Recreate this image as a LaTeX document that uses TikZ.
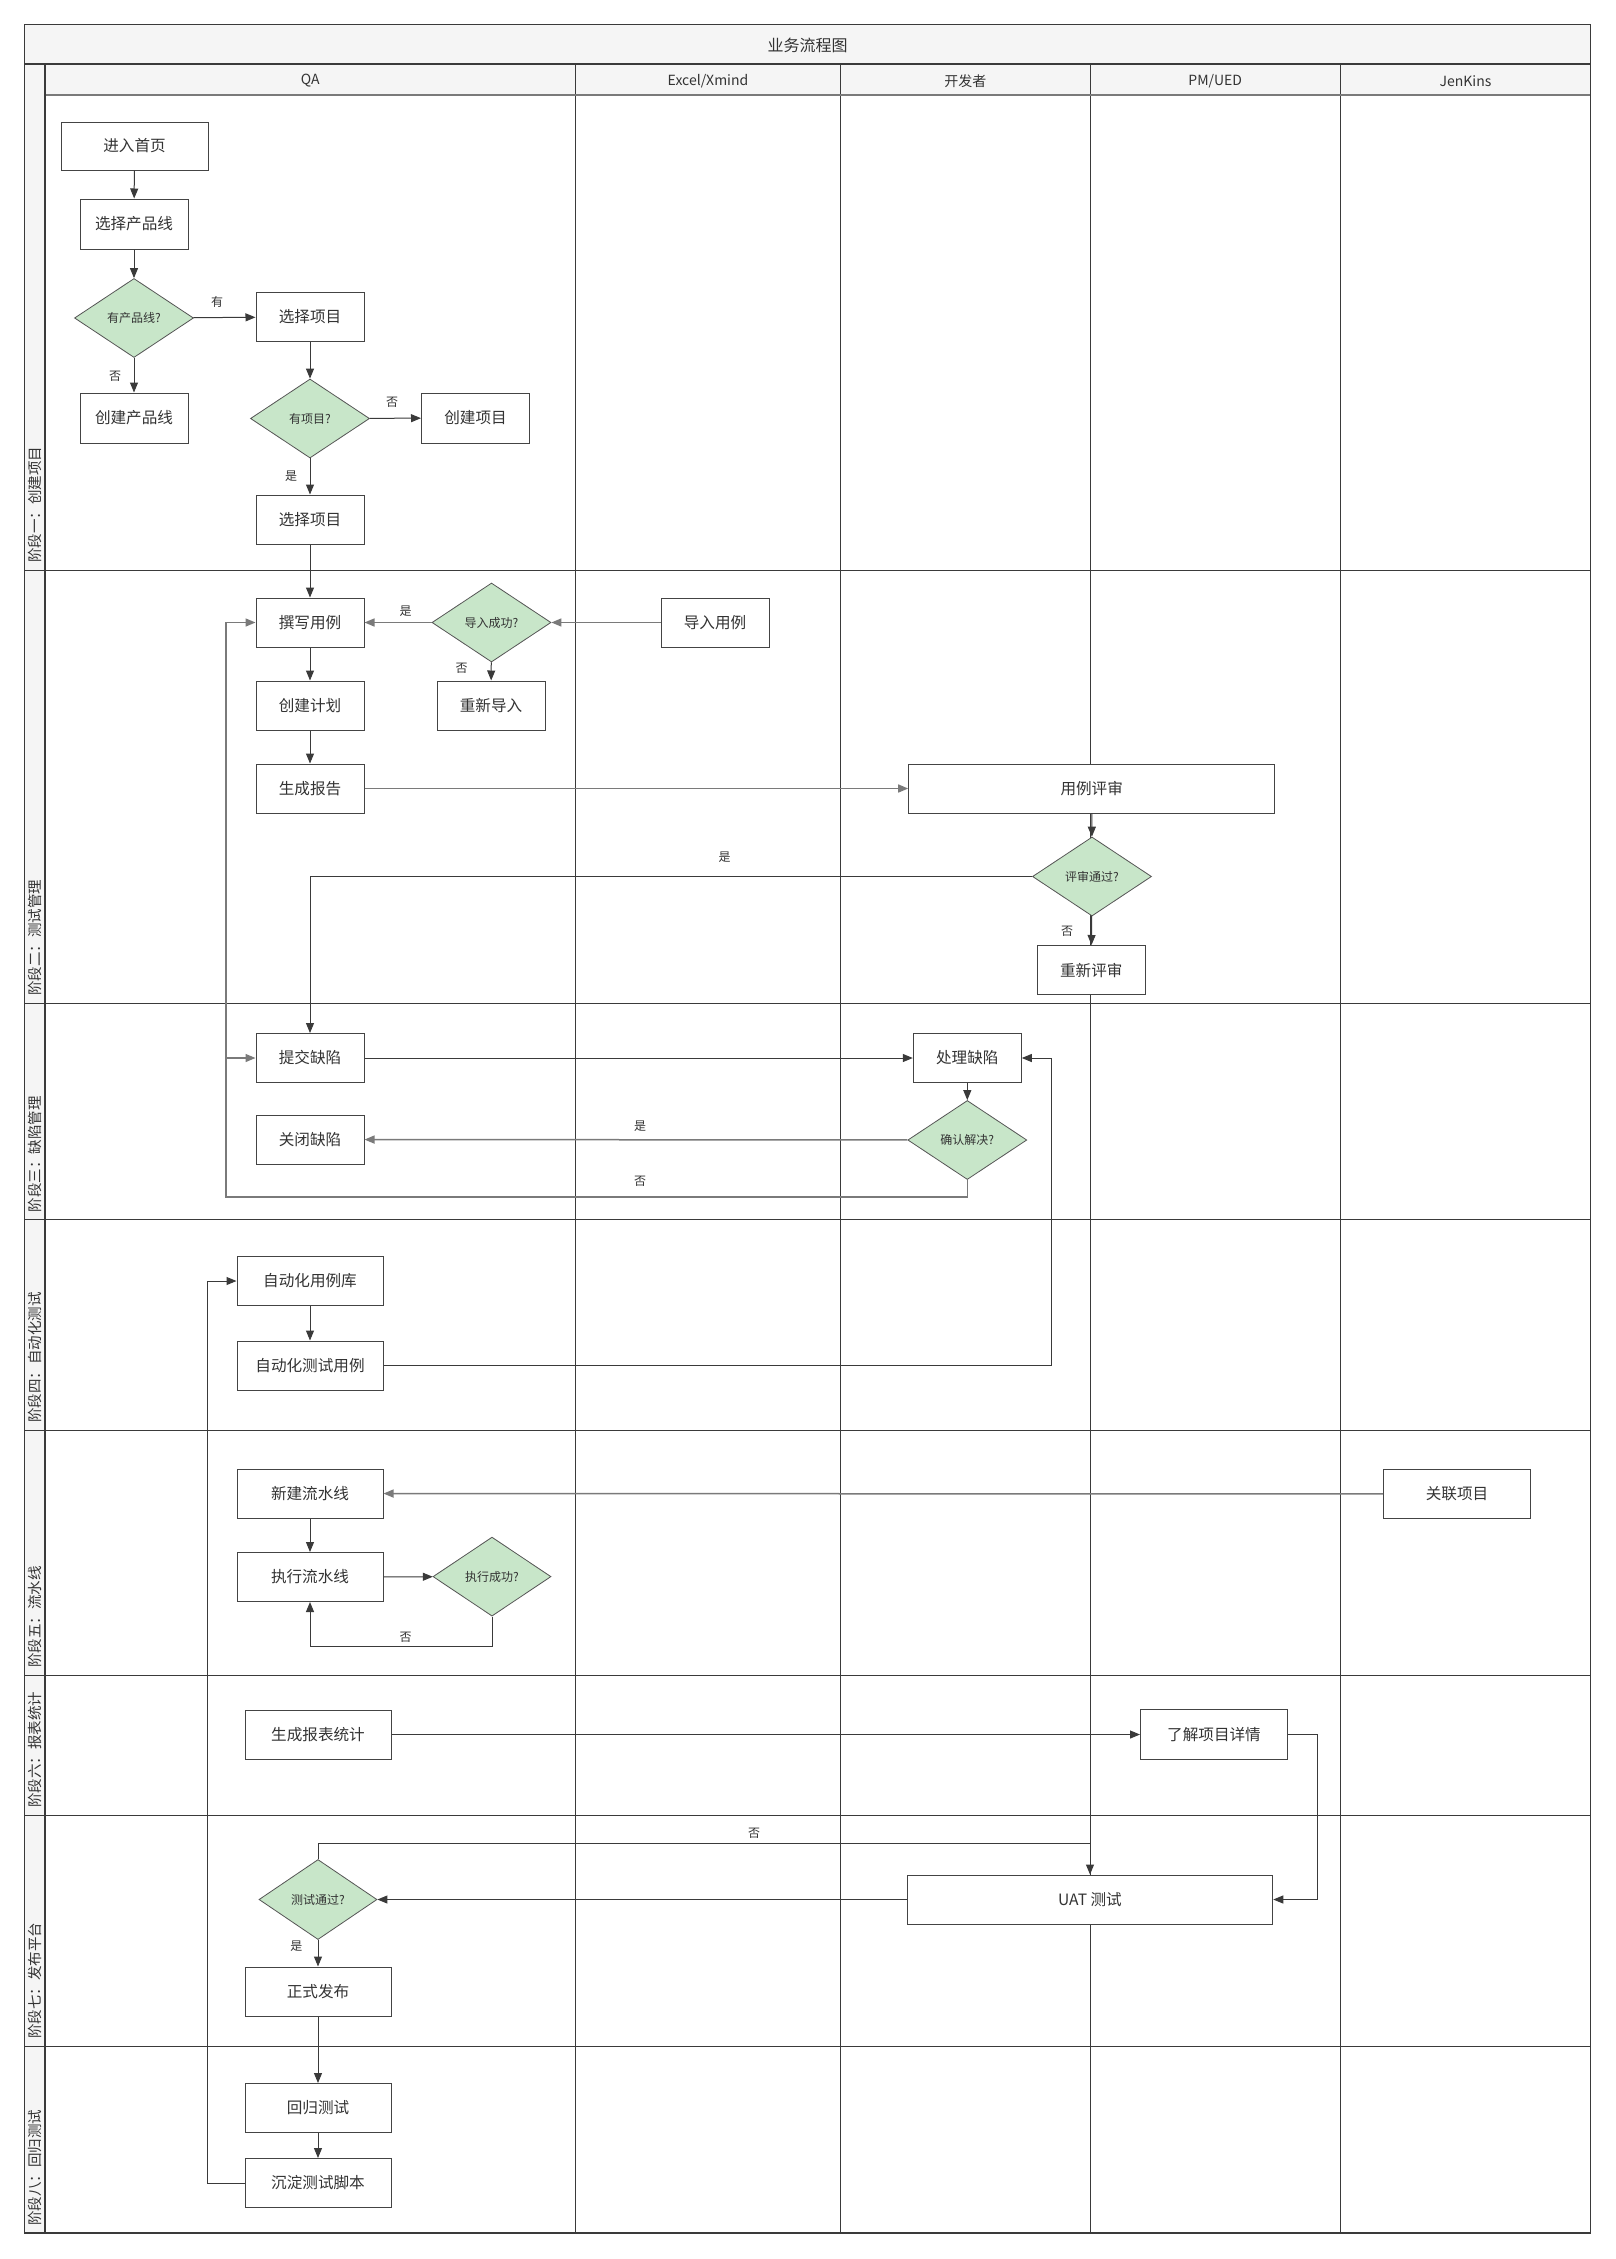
\documentclass[tikz,border=0pt]{standalone}
\usepackage{fontspec}
\setmainfont{Noto Sans CJK SC}
\usetikzlibrary{shapes.geometric,arrows.meta}
\definecolor{boxc}{HTML}{444444}
\definecolor{decc}{HTML}{555555}
\definecolor{decf}{HTML}{C8E6C9}
\definecolor{txt}{HTML}{333333}
\definecolor{linec}{HTML}{3A3A3A}
\definecolor{glinec}{HTML}{7A7A7A}
\definecolor{hdrf}{HTML}{F5F5F5}
\definecolor{framec}{HTML}{3A3A3A}
\begin{document}
\begin{tikzpicture}[x=1pt,y=-1pt,
  box/.style={draw=boxc, fill=white, line width=1pt, inner sep=0pt, font=\fontsize{15.6}{18}\selectfont, text=txt, minimum width=108, minimum height=49},
  wbox/.style={box, minimum width=146},
  dec/.style={diamond, draw=decc, fill=decf, line width=0.8pt, inner sep=0pt, minimum width=119, minimum height=79, font=\fontsize{12}{14}\selectfont, text=txt},
  lbl/.style={font=\fontsize{12}{14}\selectfont, text=txt, inner sep=0pt},
  hdr/.style={font=\fontsize{14}{16}\selectfont, text=txt, inner sep=0pt},
  stagelbl/.style={font=\fontsize{14.5}{16}\selectfont, text=txt, inner sep=0pt, rotate=90, anchor=west},
  arr/.style={draw=linec, line width=1pt, -{Triangle[length=10pt,width=8pt]}},
  garr/.style={arr, draw=glinec, line width=1.5pt},
  lane/.style={draw=framec, line width=1pt}]
\useasboundingbox (0,0) rectangle (1616,2259);
\fill[white] (0,0) rectangle (1616,2259);
% header fills
\fill[hdrf] (24.5,24.5) rectangle (1590.5,64);
\fill[hdrf] (45,64) rectangle (1590.5,95);
\fill[hdrf] (24.5,64) rectangle (45,2233);
% lane lines
\foreach \xx in {575.5,840.5,1090,1340.5} \draw[lane] (\xx,64) -- (\xx,2233);
\foreach \yy in {570,1003,1219.5,1430,1675,1815,2046} \draw[lane] (24.5,\yy) -- (1590.5,\yy);
\draw[draw=glinec, line width=2pt] (45,95) -- (1590.5,95);
\draw[lane, line width=1.4pt] (24.5,64) -- (1590.5,64);
\draw[lane, line width=1.4pt] (45,64) -- (45,2233);
\draw[lane, line width=1.4pt] (24.5,24.5) rectangle (1590.5,2233);
% title and headers
\node[hdr, font=\fontsize{16}{18}\selectfont] (title) at (807.5,45) {业务流程图};
\node[hdr] (hqa) at (310.25,81) {QA};
\node[hdr] (hex) at (708,81) {Excel/Xmind};
\node[hdr] (hdev) at (965.25,81) {开发者};
\node[hdr] (hpm) at (1215.25,81) {PM/UED};
\node[hdr] (hjk) at (1465.5,81) {JenKins};
% stage labels
\node[stagelbl] (s1) at (34.8,563) {阶段一：创建项目};
\node[stagelbl] (s2) at (34.8,996) {阶段二：测试管理};
\node[stagelbl] (s3) at (34.8,1212.5) {阶段三：缺陷管理};
\node[stagelbl] (s4) at (34.8,1423) {阶段四：自动化测试};
\node[stagelbl] (s5) at (34.8,1668) {阶段五：流水线};
\node[stagelbl] (s6) at (34.8,1808) {阶段六：报表统计};
\node[stagelbl] (s7) at (34.8,2039) {阶段七：发布平台};
\node[stagelbl] (s8) at (34.8,2226) {阶段八：回归测试};
% nodes
\node[box, minimum width=147, minimum height=48] (n1) at (134.5,146) {进入首页};
\node[box, minimum height=50] (n2) at (134,224) {选择产品线};
\node[dec] (d1) at (134,318) {有产品线?};
\node[box] (n3) at (310,317) {选择项目};
\node[box, minimum height=50] (n4) at (134,418) {创建产品线};
\node[dec] (d2) at (310,418.5) {有项目?};
\node[box, minimum height=50] (n5) at (475.5,418) {创建项目};
\node[box] (n6) at (310,519.5) {选择项目};
\node[box] (n7) at (310,622.5) {撰写用例};
\node[dec] (d3) at (491.5,622.5) {导入成功?};
\node[box] (n8) at (715,622.5) {导入用例};
\node[box] (n9) at (491,705.5) {重新导入};
\node[box] (n10) at (310,705.5) {创建计划};
\node[box] (n11) at (310,788.5) {生成报告};
\node[box, minimum width=366] (n12) at (1091.7,788.5) {用例评审};
\node[dec] (d4) at (1092,876.5) {评审通过?};
\node[box] (n13) at (1091.3,970) {重新评审};
\node[box] (n14) at (310,1058) {提交缺陷};
\node[box] (n15) at (967.3,1058) {处理缺陷};
\node[box] (n16) at (310,1139.5) {关闭缺陷};
\node[dec] (d5) at (967.3,1140) {确认解决?};
\node[wbox] (n17) at (310,1281) {自动化用例库};
\node[wbox] (n18) at (310,1365.5) {自动化测试用例};
\node[wbox] (n19) at (310,1493.5) {新建流水线};
\node[wbox] (n20) at (310,1577) {执行流水线};
\node[dec, minimum width=118] (d6) at (492,1576.6) {执行成功?};
\node[box, minimum width=147] (n21) at (1457,1494) {关联项目};
\node[wbox] (n22) at (318,1734.5) {生成报表统计};
\node[box, minimum width=147, minimum height=50] (n23) at (1214,1734.5) {了解项目详情};
\node[box, minimum width=365.5] (n24) at (1090,1899.5) {UAT 测试};
\node[dec, minimum width=118, minimum height=80] (d7) at (318,1899.5) {测试通过?};
\node[wbox] (n25) at (318,1991.5) {正式发布};
\node[wbox] (n26) at (318,2108) {回归测试};
\node[wbox] (n27) at (318,2183) {沉淀测试脚本};
% helper coordinates
\coordinate (c1) at (226,1197);
\coordinate (c2) at (1051.4,1365.5);
\coordinate (c3) at (310,1646);
\coordinate (c4) at (1317,1734.5);
\coordinate (c5) at (318,1843.5);
\coordinate (c6) at (207,2183);
% connectors
\draw[arr] (n1) -- (n2);
\draw[arr] (n2) -- (d1);
\draw[arr] (d1) -- (n3);
\draw[arr] (d1) -- (n4);
\draw[arr] (n3) -- (d2);
\draw[arr] (d2) -- (n5);
\draw[arr] (d2) -- (n6);
\draw[arr] (n6) -- (n7);
\draw[garr] (n8) -- (d3);
\draw[garr] (d3) -- (n7);
\draw[arr] (d3) -- (n9);
\draw[arr] (n7) -- (n10);
\draw[arr] (n10) -- (n11);
\draw[garr] (n11) -- (n12);
\draw[arr] (n12) -- (d4);
\draw[arr] (d4.west) -| (n14.north);
\draw[arr] (d4) -- (n13);
\draw[arr] (n14) -- (n15);
\draw[arr] (n15) -- (d5);
\draw[garr] (d5) -- (n16);
\draw[garr] (d5.south) |- (c1) |- (n7.west);
\draw[garr] (d5.south) |- (c1) |- (n14.west);
\draw[arr] (n17) -- (n18);
\draw[arr] (n18.east) -- (c2) |- (n15.east);
\draw[garr] (n21) -- (n19);
\draw[arr] (n19) -- (n20);
\draw[arr] (n20) -- (d6);
\draw[arr] (d6.south) |- (c3) -- (n20.south);
\draw[arr] (n22) -- (n23);
\draw[arr] (n23.east) -- (c4) |- (n24.east);
\draw[arr] (n24) -- (d7);
\draw[arr] (d7.north) -- (c5) -| (n24.north);
\draw[arr] (d7) -- (n25);
\draw[arr] (n25) -- (n26);
\draw[arr] (n26) -- (n27);
\draw[arr] (n27.west) -- (c6) |- (n17.west);
% connector labels
\node[lbl] (l1) at (217,302) {有};
\node[lbl] (l2) at (115,376) {否};
\node[lbl] (l3) at (392,402) {否};
\node[lbl] (l4) at (291,476.5) {是};
\node[lbl] (l5) at (405.6,611) {是};
\node[lbl] (l6) at (461.7,668) {否};
\node[lbl] (l7) at (724.5,857) {是};
\node[lbl] (l8) at (1067,931) {否};
\node[lbl] (l9) at (640,1126) {是};
\node[lbl] (l10) at (640,1181) {否};
\node[lbl] (l11) at (405.6,1637) {否};
\node[lbl] (l12) at (754,1833) {否};
\node[lbl] (l13) at (296.4,1946) {是};
\end{tikzpicture}
\end{document}
